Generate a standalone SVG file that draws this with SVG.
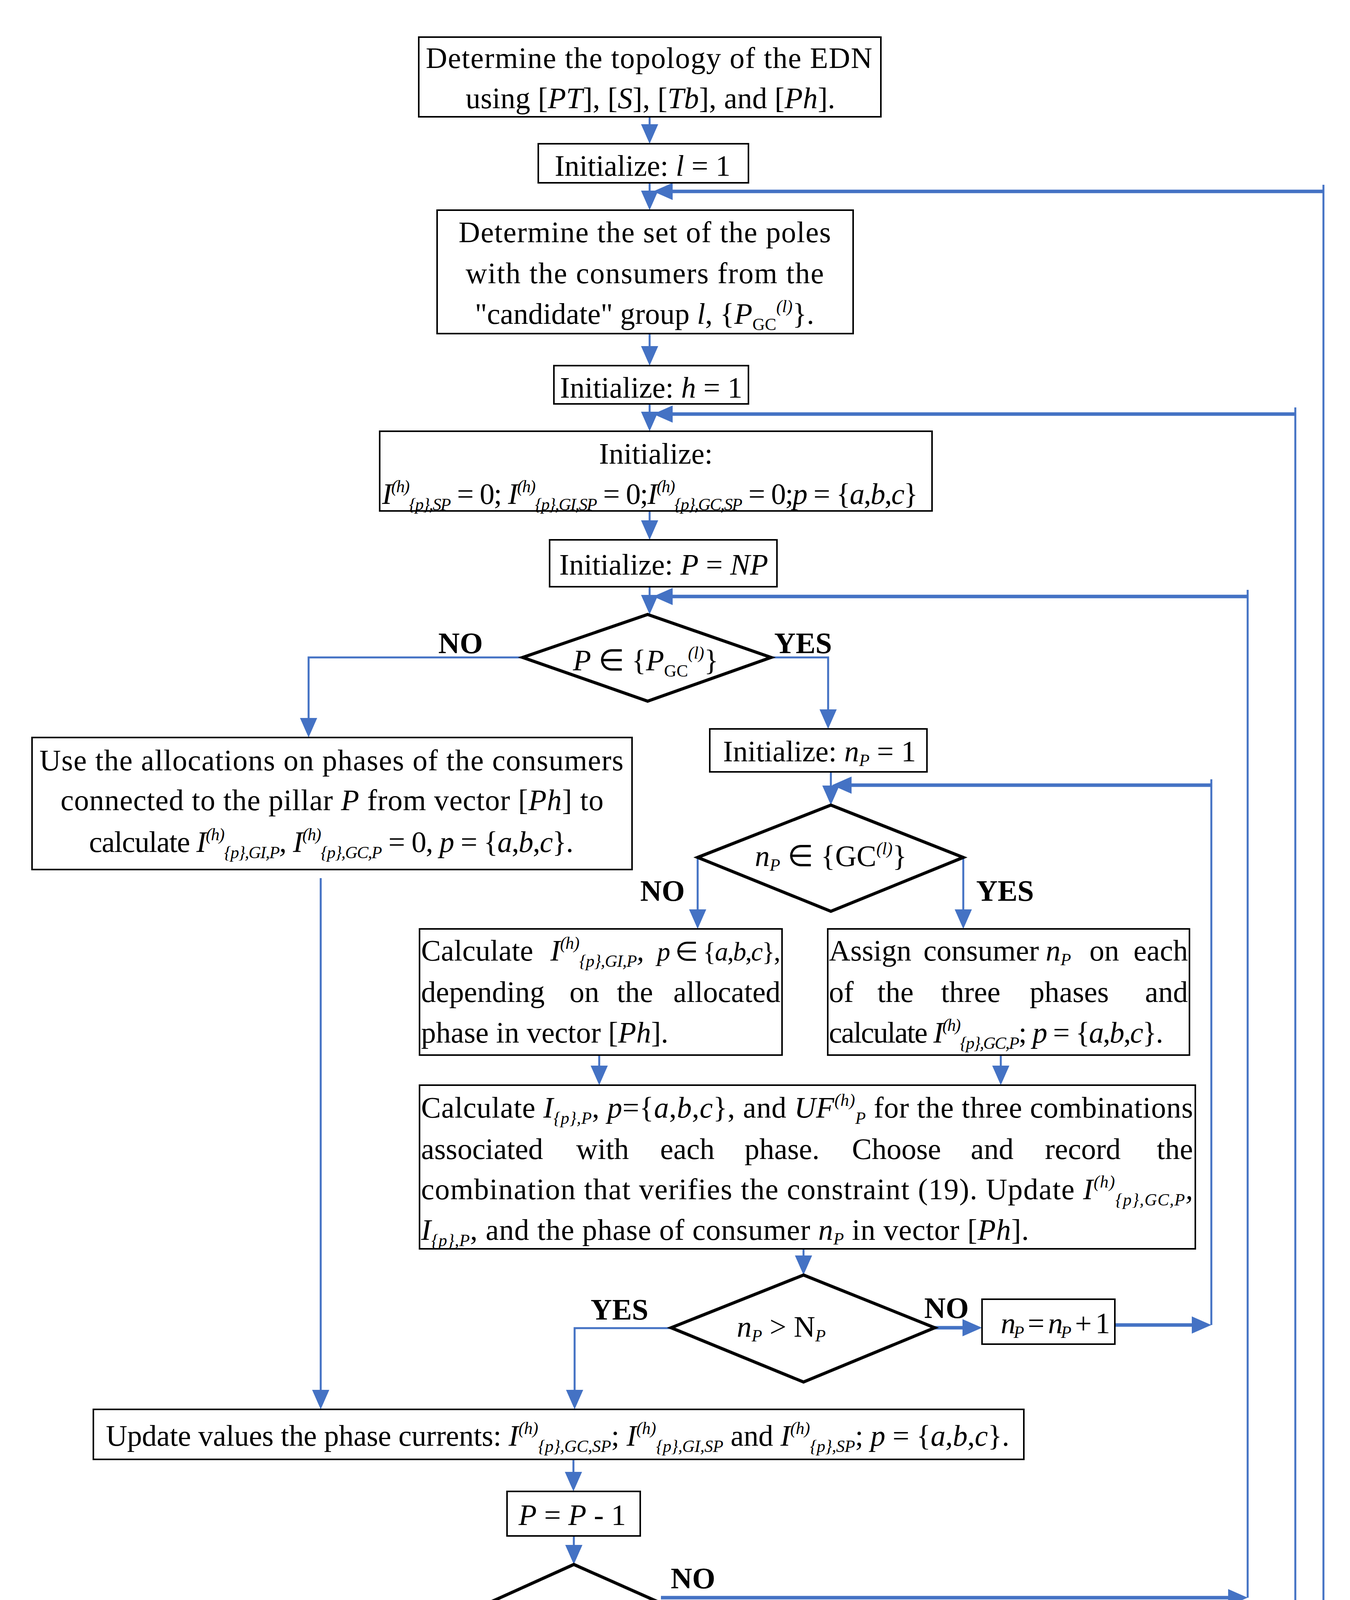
<svg xmlns="http://www.w3.org/2000/svg" width="3456" height="5631" viewBox="0 0 3456 5631">
<style>
.t{font-family:"Liberation Serif","Times New Roman",serif;font-size:76px;fill:#000}
.m{text-anchor:middle}
.i{font-style:italic}
.u{font-size:44px}
.lb{font-family:"Liberation Serif","Times New Roman",serif;font-size:76px;font-weight:bold;fill:#000}
.bx{fill:#fff;stroke:#000;stroke-width:4}
.dm{fill:#fff;stroke:#000;stroke-width:8;stroke-linejoin:miter}
.ln{fill:none;stroke:#4472C4;stroke-width:5}
.tk{fill:none;stroke:#4472C4;stroke-width:9}
</style>
<defs>
<marker id="ah" markerUnits="userSpaceOnUse" markerWidth="50" markerHeight="44" refX="30" refY="22" orient="auto">
<path d="M0,0 L50,22 L0,44 z" fill="#4472C4"/>
</marker>
</defs>
<rect width="3456" height="5631" fill="#fff"/>

<g id="connectors">
<path class="ln" d="M3388,473 V5149"/>
<path class="ln" d="M3316,1043 V4655"/>
<path class="ln" d="M3194,1510 V4090"/>
<path class="ln" d="M3101,1995 V3392"/>
<path class="ln" marker-end="url(#ah)" d="M1663,299 V348"/>
<path class="ln" marker-end="url(#ah)" d="M1663,468 V518"/>
<path class="ln" marker-end="url(#ah)" d="M1663,854 V916"/>
<path class="ln" marker-end="url(#ah)" d="M1663,1034 V1084"/>
<path class="ln" marker-end="url(#ah)" d="M1663,1308 V1362"/>
<path class="ln" marker-end="url(#ah)" d="M1663,1502 V1553"/>
<path class="tk" marker-end="url(#ah)" d="M3388,490 H1692"/>
<path class="tk" marker-end="url(#ah)" d="M3316,1060 H1692"/>
<path class="tk" marker-end="url(#ah)" d="M3194,1527 H1692"/>
<path class="tk" marker-end="url(#ah)" d="M3101,2010 H2150"/>
<path class="ln" marker-end="url(#ah)" d="M1338,1683 H790 V1868"/>
<path class="ln" marker-end="url(#ah)" d="M1974,1683 H2120 V1846"/>
<path class="ln" marker-end="url(#ah)" d="M2127,1976 V2041"/>
<path class="ln" marker-end="url(#ah)" d="M1786,2195 V2358"/>
<path class="ln" marker-end="url(#ah)" d="M2466,2195 V2358"/>
<path class="ln" marker-end="url(#ah)" d="M1534,2701 V2758"/>
<path class="ln" marker-end="url(#ah)" d="M2562,2701 V2758"/>
<path class="ln" marker-end="url(#ah)" d="M2057,3197 V3244"/>
<path class="tk" marker-end="url(#ah)" d="M2393,3399 H2494"/>
<path class="tk" marker-end="url(#ah)" d="M2854,3392 H3081"/>
<path class="ln" marker-end="url(#ah)" d="M1718,3400 H1471 V3588"/>
<path class="ln" marker-end="url(#ah)" d="M821,2248 V3588"/>
<path class="ln" marker-end="url(#ah)" d="M1468,3736 V3798"/>
<path class="ln" marker-end="url(#ah)" d="M1469,3932 V3985"/>
<path class="tk" marker-end="url(#ah)" d="M1692,4090 H3174"/>
<path class="ln" marker-end="url(#ah)" d="M1469,4210 V4243"/>
<path class="ln" marker-end="url(#ah)" d="M1491,4478 V4537"/>
<path class="tk" marker-end="url(#ah)" d="M1717,4655 H1874"/>
<path class="tk" marker-end="url(#ah)" d="M2237,4655 H3296"/>
<path class="ln" marker-end="url(#ah)" d="M1491,4761 V4812"/>
<path class="ln" marker-end="url(#ah)" d="M1495,4953 V4997"/>
<path class="tk" marker-end="url(#ah)" d="M1965,5145 H2124"/>
<path class="tk" marker-end="url(#ah)" d="M2603,5152 H2771"/>
<path class="tk" marker-end="url(#ah)" d="M3064,5149 H3368"/>
<path class="ln" marker-end="url(#ah)" d="M1495,5271 V5315"/>
<path class="ln" marker-end="url(#ah)" d="M2375,5254 V5315"/>
</g>

<g id="n1">
<rect class="bx" x="1072" y="95" width="1183" height="204"/>
<text class="t" x="1090" y="174" textLength="1143" lengthAdjust="spacing">Determine the topology of the EDN</text>
<text class="t" x="1192" y="277" textLength="946" lengthAdjust="spacing">using [<tspan class="i">PT</tspan>], [<tspan class="i">S</tspan>], [<tspan class="i">Tb</tspan>], and [<tspan class="i">Ph</tspan>].</text>
</g>

<g id="n2">
<rect class="bx" x="1378" y="368" width="538" height="100"/>
<text class="t m" x="1645" y="450">Initialize: <tspan class="i">l</tspan> = 1</text>
</g>

<g id="n3">
<rect class="bx" x="1119" y="538" width="1065" height="316"/>
<text class="t" x="1174" y="620" textLength="953" lengthAdjust="spacing">Determine the set of the poles</text>
<text class="t" x="1192" y="725" textLength="917" lengthAdjust="spacing">with the consumers from the</text>
<text class="t m" x="1650" y="829">"candidate" group <tspan class="i">l</tspan>, {<tspan class="i">P</tspan><tspan class="u" dy="16">GC</tspan><tspan class="u i" dy="-46">(l)</tspan><tspan dy="30">}.</tspan></text>
</g>

<g id="n4">
<rect class="bx" x="1418" y="936" width="498" height="98"/>
<text class="t m" x="1667" y="1018">Initialize: <tspan class="i">h</tspan> = 1</text>
</g>

<g id="n5">
<rect class="bx" x="972" y="1104" width="1414" height="204"/>
<text class="t m" x="1679" y="1187">Initialize:</text>
<text class="t" x="978" y="1290" textLength="1372" lengthAdjust="spacing"><tspan class="i">I</tspan><tspan class="u i" dy="-30">(h)</tspan><tspan class="u i" dy="46">{p},SP</tspan><tspan dy="-16"> = 0; </tspan><tspan class="i">I</tspan><tspan class="u i" dy="-30">(h)</tspan><tspan class="u i" dy="46">{p},GI,SP</tspan><tspan dy="-16"> = 0;</tspan><tspan class="i">I</tspan><tspan class="u i" dy="-30">(h)</tspan><tspan class="u i" dy="46">{p},GC,SP</tspan><tspan dy="-16"> = 0;</tspan><tspan class="i">p</tspan> = {<tspan class="i">a</tspan>,<tspan class="i">b</tspan>,<tspan class="i">c</tspan>}</text>
</g>

<g id="n6">
<rect class="bx" x="1407" y="1382" width="582" height="120"/>
<text class="t m" x="1699" y="1471">Initialize: <tspan class="i">P</tspan> = <tspan class="i">NP</tspan></text>
</g>

<g id="n7">
<polygon class="dm" points="1658,1573 1974,1683 1658,1795 1338,1683"/>
<text class="t m" x="1653" y="1716"><tspan class="i">P</tspan> ∈ {<tspan class="i">P</tspan><tspan class="u" dy="16">GC</tspan><tspan class="u i" dy="-46">(l)</tspan><tspan dy="30">}</tspan></text>
<text class="lb" x="1122" y="1672">NO</text>
<text class="lb" x="1982" y="1672">YES</text>
</g>

<g id="n8">
<rect class="bx" x="82" y="1888" width="1536" height="338"/>
<text class="t" x="101" y="1972" textLength="1495" lengthAdjust="spacing">Use the allocations on phases of the consumers</text>
<text class="t" x="155" y="2074" textLength="1390" lengthAdjust="spacing">connected to the pillar <tspan class="i">P</tspan> from vector [<tspan class="i">Ph</tspan>] to</text>
<text class="t" x="228" y="2181" textLength="1240" lengthAdjust="spacing">calculate <tspan class="i">I</tspan><tspan class="u i" dy="-30">(h)</tspan><tspan class="u i" dy="46">{p},GI,P</tspan><tspan class="i" dy="-16">, I</tspan><tspan class="u i" dy="-30">(h)</tspan><tspan class="u i" dy="46">{p},GC,P</tspan><tspan dy="-16"> = 0, </tspan><tspan class="i">p</tspan> = {<tspan class="i">a</tspan>,<tspan class="i">b</tspan>,<tspan class="i">c</tspan>}.</text>
</g>

<g id="n9">
<rect class="bx" x="1817" y="1866" width="556" height="110"/>
<text class="t m" x="2098" y="1949">Initialize: <tspan class="i">n</tspan><tspan class="u i" dy="12">P</tspan><tspan dy="-12"> = 1</tspan></text>
</g>

<g id="n10">
<polygon class="dm" points="2127,2061 2466,2195 2127,2333 1786,2195"/>
<text class="t m" x="2127" y="2217"><tspan class="i">n</tspan><tspan class="u i" dy="12">P</tspan><tspan dy="-12"> ∈ {GC</tspan><tspan class="u i" dy="-30">(l)</tspan><tspan dy="30">}</tspan></text>
<text class="lb" x="1639" y="2306">NO</text>
<text class="lb" x="2499" y="2306">YES</text>
</g>

<g id="n11">
<rect class="bx" x="1074" y="2378" width="928" height="323"/>
<text class="t" x="1078" y="2459">Calculate</text>
<text class="t" x="1409" y="2459" textLength="240" lengthAdjust="spacing"><tspan class="i">I</tspan><tspan class="u i" dy="-30">(h)</tspan><tspan class="u i" dy="46">{p},GI,P</tspan><tspan class="i" dy="-16">,</tspan></text>
<text class="t" x="1682" y="2459" textLength="316" lengthAdjust="spacing" style="font-size:68px"><tspan class="i">p</tspan> ∈ {<tspan class="i">a</tspan>,<tspan class="i">b</tspan>,<tspan class="i">c</tspan>},</text>
<text class="t" y="2565"><tspan x="1078">depending</tspan><tspan x="1458">on</tspan><tspan x="1579">the</tspan><tspan x="1998" style="text-anchor:end">allocated</tspan></text>
<text class="t" x="1078" y="2669">phase in vector [<tspan class="i">Ph</tspan>].</text>
</g>

<g id="n12">
<rect class="bx" x="2119" y="2378" width="926" height="323"/>
<text class="t" y="2459"><tspan x="2122">Assign</tspan><tspan x="2364">consumer</tspan><tspan x="2677" class="i">n</tspan><tspan class="u i" dy="12">P</tspan><tspan x="2789" dy="-12">on</tspan><tspan x="3041" style="text-anchor:end">each</tspan></text>
<text class="t" y="2565"><tspan x="2122">of</tspan><tspan x="2246">the</tspan><tspan x="2409">three</tspan><tspan x="2636">phases</tspan><tspan x="3041" style="text-anchor:end">and</tspan></text>
<text class="t" x="2122" y="2669" textLength="856" lengthAdjust="spacing">calculate <tspan class="i">I</tspan><tspan class="u i" dy="-30">(h)</tspan><tspan class="u i" dy="46">{p},GC,P</tspan><tspan dy="-16">; </tspan><tspan class="i">p</tspan> = {<tspan class="i">a</tspan>,<tspan class="i">b</tspan>,<tspan class="i">c</tspan>}.</text>
</g>

<g id="n13">
<rect class="bx" x="1074" y="2778" width="1986" height="419"/>
<text class="t" x="1078" y="2861" textLength="1976" lengthAdjust="spacing">Calculate <tspan class="i">I</tspan><tspan class="u i" dy="16">{p},P</tspan><tspan dy="-16">, </tspan><tspan class="i">p</tspan>={<tspan class="i">a</tspan>,<tspan class="i">b</tspan>,<tspan class="i">c</tspan>}, and <tspan class="i">UF</tspan><tspan class="u i" dy="-30">(h)</tspan><tspan class="u i" dy="46">P</tspan><tspan dy="-16"> for the three combinations</tspan></text>
<text class="t" y="2967"><tspan x="1078">associated</tspan><tspan x="1475">with</tspan><tspan x="1690">each</tspan><tspan x="1906">phase.</tspan><tspan x="2181">Choose</tspan><tspan x="2485">and</tspan><tspan x="2675">record</tspan><tspan x="3054" style="text-anchor:end">the</tspan></text>
<text class="t" x="1078" y="3070" textLength="1976" lengthAdjust="spacing">combination that verifies the constraint (19). Update <tspan class="i">I</tspan><tspan class="u i" dy="-30">(h)</tspan><tspan class="u i" dy="46">{p},GC,P</tspan><tspan class="i" dy="-16">,</tspan></text>
<text class="t" x="1078" y="3174" textLength="1556" lengthAdjust="spacing"><tspan class="i">I</tspan><tspan class="u i" dy="16">{p},P</tspan><tspan dy="-16">, and the phase of consumer </tspan><tspan class="i">n</tspan><tspan class="u i" dy="12">P</tspan><tspan dy="-12"> in vector [</tspan><tspan class="i">Ph</tspan>].</text>
</g>

<g id="n14">
<polygon class="dm" points="2057,3264 2393,3399 2057,3538 1718,3399"/>
<text class="t m" x="2000" y="3422"><tspan class="i">n</tspan><tspan class="u i" dy="12">P</tspan><tspan dy="-12"> &gt; N</tspan><tspan class="u i" dy="12">P</tspan></text>
<text class="lb" x="1512" y="3378">YES</text>
<text class="lb" x="2366" y="3374">NO</text>
</g>

<g id="n15">
<rect class="bx" x="2514" y="3326" width="340" height="115"/>
<text class="t" x="2562" y="3413" textLength="280" lengthAdjust="spacing"><tspan class="i">n</tspan><tspan class="u i" dy="12">P</tspan><tspan dy="-12"> = </tspan><tspan class="i">n</tspan><tspan class="u i" dy="12">P</tspan><tspan dy="-12"> + 1</tspan></text>
</g>

<g id="n16">
<rect class="bx" x="239" y="3608" width="2382" height="128"/>
<text class="t" x="271" y="3701" textLength="2313" lengthAdjust="spacing">Update values the phase currents: <tspan class="i">I</tspan><tspan class="u i" dy="-30">(h)</tspan><tspan class="u i" dy="46">{p},GC,SP</tspan><tspan dy="-16">; </tspan><tspan class="i">I</tspan><tspan class="u i" dy="-30">(h)</tspan><tspan class="u i" dy="46">{p},GI,SP</tspan><tspan dy="-16"> and </tspan><tspan class="i">I</tspan><tspan class="u i" dy="-30">(h)</tspan><tspan class="u i" dy="46">{p},SP</tspan><tspan dy="-16">; </tspan><tspan class="i">p</tspan> = {<tspan class="i">a</tspan>,<tspan class="i">b</tspan>,<tspan class="i">c</tspan>}.</text>
</g>

<g id="n17">
<rect class="bx" x="1298" y="3818" width="341" height="114"/>
<text class="t m" x="1465" y="3904"><tspan class="i">P</tspan> = <tspan class="i">P</tspan> - 1</text>
</g>

<g id="n18">
<polygon class="dm" points="1469,4005 1701,4108 1469,4210 1241,4108"/>
<text class="t m" x="1473" y="4148">P = 0</text>
<text class="lb" x="1717" y="4066">NO</text>
<text class="lb" x="1562" y="4255">YES</text>
</g>

<g id="n19">
<rect class="bx" x="1010" y="4263" width="895" height="215"/>
<text class="t" x="1015" y="4352" textLength="884" lengthAdjust="spacing">Calculate <tspan class="i">UF</tspan><tspan class="u i" dy="-30">(h)</tspan><tspan class="u i" dy="46">SP</tspan><tspan dy="-16"> and record</tspan></text>
<text class="t m" x="1457" y="4463">in the vector <tspan class="i">UF</tspan><tspan class="u i" dy="-30">(l)</tspan><tspan class="u i" dy="46">SP</tspan></text>
</g>

<g id="n20">
<polygon class="dm" points="1491,4557 1717,4660 1491,4761 1258,4660"/>
<text class="t m" x="1488" y="4696">h &gt; <tspan class="i">H</tspan></text>
<text class="lb" x="1723" y="4621">NO</text>
<text class="lb" x="1540" y="4805">YES</text>
</g>

<g id="n21">
<rect class="bx" x="1894" y="4599" width="343" height="110"/>
<text class="t m" x="2065" y="4680"><tspan class="i">h</tspan> = <tspan class="i">h</tspan> + 1</text>
</g>

<g id="n22">
<rect class="bx" x="1198" y="4832" width="576" height="121"/>
<text class="t m" x="1480" y="4914">Calculate <tspan class="i">UF</tspan><tspan class="u i" dy="-30">(l)</tspan><tspan class="u i" dy="46">av,SP</tspan></text>
</g>

<g id="n23">
<polygon class="dm" points="1495,5017 1965,5145 1495,5271 1015,5145"/>
<text class="t m" x="1495" y="5169"><tspan class="i">UF</tspan><tspan class="u i" dy="-30">(l)</tspan><tspan class="u i" dy="46">av,SP</tspan><tspan dy="-16"> ≤ </tspan><tspan class="i">UF</tspan><tspan class="u i" dy="16">im</tspan></text>
<text class="lb" x="1967" y="5129">NO</text>
<text class="lb" x="1588" y="5316">YES</text>
</g>

<g id="n24">
<polygon class="dm" points="2375,5051 2603,5154 2375,5254 2144,5154"/>
<text class="t m" x="2373" y="5189"><tspan class="i">l</tspan> &gt; GC</text>
<text class="lb" x="2621" y="5127">NO</text>
<text class="lb" x="2432" y="5316">YES</text>
</g>

<g id="n25">
<rect class="bx" x="2791" y="5102" width="273" height="110"/>
<text class="t m" x="2930" y="5182"><tspan class="i">l</tspan> = <tspan class="i">l</tspan> + 1</text>
</g>

<g id="n26">
<rect class="bx" x="1334" y="5335" width="1779" height="220"/>
<text class="t" x="1338" y="5423" textLength="1770" lengthAdjust="spacing">Display <tspan class="i">UF</tspan><tspan class="u i" dy="16">av,SP</tspan><tspan dy="-16"> and the consumers from the "candidate"</tspan></text>
<text class="t" x="1524" y="5535" textLength="1396" lengthAdjust="spacing">groups who participated in the PLB process</text>
</g>
</svg>
